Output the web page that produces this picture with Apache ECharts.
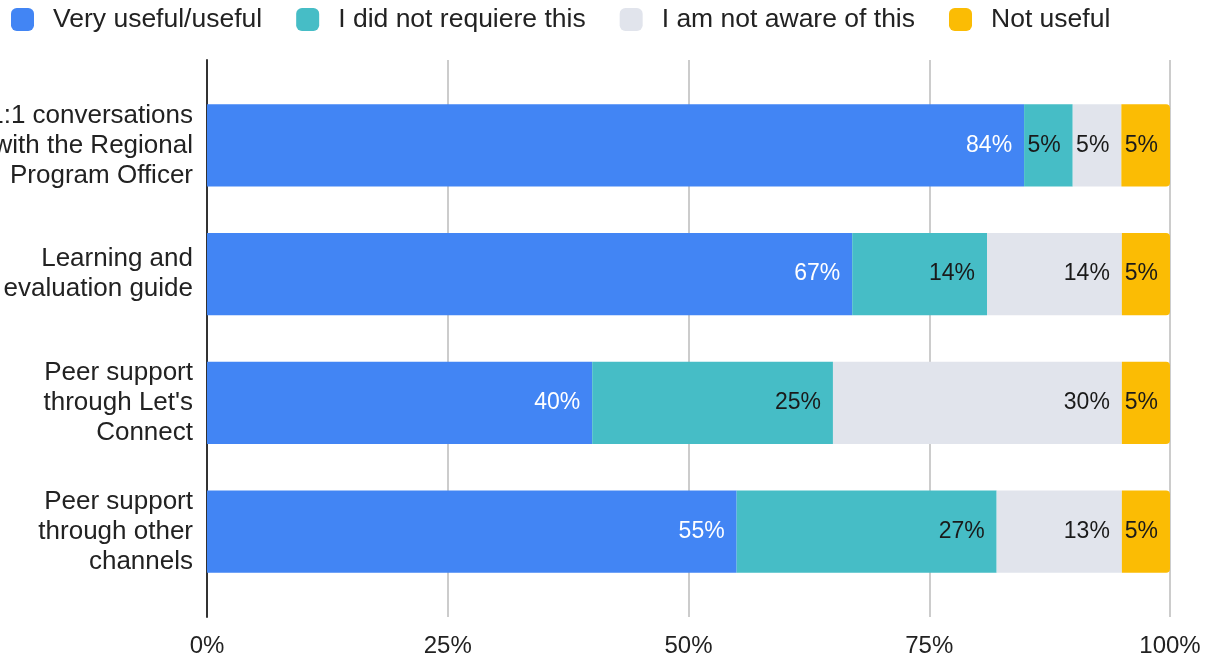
<!DOCTYPE html>
<html>
<head>
<meta charset="utf-8">
<script src="https://cdn.jsdelivr.net/npm/echarts@6/dist/echarts.min.js"></script>
<style>
  html, body { margin: 0; padding: 0; background: #fff; }
  #chart { width: 1205px; height: 661px; }
</style>
</head>
<body>
<div id="chart"></div>
<script>
// Support channels, top to bottom
const categories = [
  '1:1 conversations\nwith the Regional\nProgram Officer',
  'Learning and\nevaluation guide',
  'Peer support\nthrough Let\'s\nConnect',
  'Peer support\nthrough other\nchannels'
];

// Response shares per channel (%)
const veryUseful   = [84, 67, 40, 55];
const notRequired  = [5, 14, 25, 27];
const notAware     = [5, 14, 30, 13];
const notUseful    = [5, 5, 5, 5];

const seriesNames = ['Very useful/useful', 'I did not requiere this', 'I am not aware of this', 'Not useful'];
const seriesValues = [veryUseful, notRequired, notAware, notUseful];
const seriesColors = ['#4285F4', '#46BDC6', '#E1E4EC', '#FBBC04'];
const labelColors = ['#ffffff', '#1a1a1a', '#1a1a1a', '#1a1a1a'];

const tickLabels = ['0%', '25%', '50%', '75%', '100%'];

// Each bar is stacked to 100% of its row total
const rowTotals = categories.map((_, i) => seriesValues.reduce((s, arr) => s + arr[i], 0));

const FONT = '"Liberation Sans", Arial, sans-serif';

const series = seriesValues.map((vals, k) => ({
  name: seriesNames[k],
  type: 'bar',
  stack: 'total',
  xAxisIndex: 1,
  yAxisIndex: 1,
  barWidth: '64%',
  itemStyle: {
    color: seriesColors[k],
    borderRadius: k === seriesValues.length - 1 ? [0, 4, 4, 0] : 0
  },
  label: {
    show: true,
    position: 'insideRight',
    distance: 12,
    color: labelColors[k],
    fontFamily: FONT,
    fontSize: 23,
    formatter: p => vals[p.dataIndex] + '%'
  },
  data: vals.map((v, i) => ({ value: v / rowTotals[i] }))
}));

const chart = echarts.init(document.getElementById('chart'), null, { renderer: 'canvas' });
chart.setOption({
  animation: false,
  textStyle: { fontFamily: FONT },
  color: seriesColors,
  legend: {
    left: 6,
    top: 1,
    itemWidth: 23,
    itemHeight: 23,
    itemGap: 34,
    icon: 'roundRect',
    textStyle: { fontSize: 26.5, color: '#222', padding: [0, 0, 0, 14], fontFamily: FONT },
    data: seriesNames
  },
  grid: [
    { left: 207, right: 35, top: 60, bottom: 44, outerBoundsMode: 'none' },
    { left: 207, right: 35, top: 81, height: 515, outerBoundsMode: 'none' }
  ],
  xAxis: [
    {
      gridIndex: 0,
      type: 'value',
      min: 0,
      max: 1,
      interval: 0.25,
      axisLine: { show: false },
      axisTick: { show: false },
      splitLine: { show: true, lineStyle: { color: '#cccccc', width: 2 } },
      axisLabel: {
        margin: 17,
        fontSize: 24,
        color: '#222',
        fontFamily: FONT,
        formatter: (v) => tickLabels[Math.round(v / 0.25)]
      }
    },
    {
      gridIndex: 1,
      type: 'value',
      min: 0,
      max: 1,
      show: false
    }
  ],
  yAxis: [
    {
      gridIndex: 0,
      type: 'value',
      min: 0,
      max: 1,
      axisLine: { show: true, lineStyle: { color: '#333333', width: 2 } },
      axisTick: { show: false },
      axisLabel: { show: false },
      splitLine: { show: false }
    },
    {
      gridIndex: 1,
      type: 'category',
      inverse: true,
      data: categories,
      axisLine: { show: false },
      axisTick: { show: false },
      splitLine: { show: false },
      axisLabel: {
        margin: 14,
        fontSize: 26,
        lineHeight: 30,
        color: '#222',
        align: 'right',
        fontFamily: FONT
      }
    }
  ],
  series: series
});
</script>
</body>
</html>
